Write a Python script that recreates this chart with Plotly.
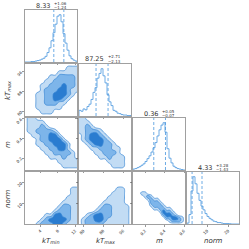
import numpy as np
import plotly.graph_objects as go

W = H = 249
FONT = "DejaVu Sans"

# ---------------- data ----------------
names = ["<i>kT</i><sub><i>min</i></sub>", "<i>kT</i><sub><i>max</i></sub>",
         "<i>m</i>", "<i>norm</i>"]
ranges = [[0.5, 12.4], [78.26, 99.2], [0.077, 0.61], [0.48, 25.2]]
ticks = [[4, 8, 12], [80, 88, 96], [0.2, 0.4, 0.6], [10, 20]]
tick_text = [["4", "8", "12"], ["80", "88", "96"], ["0.2", "0.4", "0.6"], ["10", "20"]]

medians = [8.33, 87.25, 0.36, 4.33]
err_lo = [1.24, 2.13, 0.07, 1.43]
err_hi = [1.06, 2.71, 0.05, 3.28]

hist_kTmin = [0, 0, 0, 0.01, 0.01, 0.02, 0.03, 0.04, 0.06, 0.08, 0.12, 0.2, 0.3,
              0.45, 0.62, 0.8, 0.97, 1.0, 0.85, 0.6, 0.4, 0.25, 0.13, 0.07, 0.04, 0.02]
hist_kTmax = [0.12, 0.1, 0.15, 0.13, 0.2, 0.25, 0.35, 0.5, 0.6, 0.8, 0.9, 1.0, 0.85,
              0.7, 0.45, 0.3, 0.22, 0.12, 0.1, 0.06, 0.05, 0.03, 0.02, 0.02, 0.01, 0.01]
hist_m = [0.02, 0.03, 0.05, 0.07, 0.1, 0.13, 0.18, 0.24, 0.3, 0.38, 0.47, 0.58, 0.72,
          0.85, 0.95, 1.0, 0.8, 0.45, 0.25, 0.15, 0.08, 0.05, 0.03, 0.02, 0.01, 0.0]
hist_norm = [0.02, 0.2, 0.7, 1.0, 0.85, 0.65, 0.5, 0.38, 0.3, 0.22, 0.16, 0.12, 0.09,
             0.06, 0.05, 0.03, 0.03, 0.02, 0.01, 0.01, 0.01, 0.005, 0, 0, 0, 0]
hists = [hist_kTmin, hist_kTmax, hist_m, hist_norm]

# density level maps (0 = outside, 1..3 = credible-region levels), top row first
dens_kTmax_kTmin = [
    "0000000000000",
    "0000000000111",
    "0000000011111",
    "0000001122221",
    "0000011222221",
    "0000112223221",
    "0000122233211",
    "0001122333210",
    "0001122332100",
    "0001122211000",
    "0001111110000",
    "0000111000000",
    "0000000000000"]
dens_m_kTmin = [
    "0110000000000",
    "0111100000000",
    "0111210000000",
    "0112222100000",
    "0011223310000",
    "0001223331000",
    "0001122333100",
    "0000112233100",
    "0000011222210",
    "0000001112110",
    "0000000011111",
    "0000000001111",
    "0000000000000"]
dens_m_kTmax = [
    "1100000000000",
    "1110000000000",
    "1121000000000",
    "1122210000000",
    "0123321000000",
    "0123332100000",
    "0012332210000",
    "0001122211000",
    "0000112221000",
    "0000011211100",
    "0000000111100",
    "0000000011100",
    "0000000000000"]
dens_norm_kTmin = [
    "0000000000000",
    "0000000000000",
    "0000000000000",
    "0000000000000",
    "0000000000011",
    "0000000000011",
    "0000000000111",
    "0000000001111",
    "0000000012211",
    "0000000122211",
    "0000011332211",
    "0000123333211",
    "0001222332111"]
dens_norm_kTmax = [
    "0000000000000",
    "0000000000000",
    "0000000000000",
    "0000000000000",
    "0000000001100",
    "0000000011100",
    "0000000111100",
    "0000001111100",
    "0000012211110",
    "0000122211110",
    "0012332211110",
    "0122332111110",
    "0122221111110"]
dens_norm_m = [
    "000000000000000000",
    "000000000000000000",
    "000000000000000000",
    "000000000000000000",
    "000000000000000000",
    "000000000000000000",
    "000000000000000000",
    "000110000000000000",
    "000012100000000000",
    "000001211000000000",
    "000000222100000000",
    "000000122210000000",
    "000000011221100000",
    "000000000132210000",
    "000000000023321000",
    "000000000002233210",
    "000000000000122210",
    "000000000000000000"]
dens = {(1, 0): dens_kTmax_kTmin, (2, 0): dens_m_kTmin, (2, 1): dens_m_kTmax,
        (3, 0): dens_norm_kTmin, (3, 1): dens_norm_kTmax, (3, 2): dens_norm_m}

# ---------------- style ----------------
BLUE = "#4a97de"
LINE2D = "#3a86d4"
LIGHT = "#c2dcf4"
MID = "#7db5ea"
DARK = "#2a7cd0"
FRAME = "#a0a0a0"
TXT = "#333333"
L0, T0, S, STEP = 25, 10, 52, 54
UP = 4  # display resampling of the level maps (smooth outlines, like corner's smoothing)


def _kern(t):
    a = -0.5
    t = abs(t)
    if t <= 1:
        return (a + 2) * t ** 3 - (a + 3) * t ** 2 + 1
    if t < 2:
        return a * t ** 3 - 5 * a * t ** 2 + 8 * a * t - 4 * a
    return 0.0


def _resample_matrix(n, f):
    m = (n - 1) * f + 1
    M = np.zeros((m, n))
    for j in range(m):
        u = j / f
        i0 = int(np.floor(u))
        for i in range(i0 - 1, i0 + 3):
            M[j, min(max(i, 0), n - 1)] += _kern(u - i)
    return M


fig = go.Figure()
layout = dict(width=W, height=H, margin=dict(l=0, r=0, t=0, b=0, pad=0),
              paper_bgcolor="white", plot_bgcolor="white", showlegend=False,
              font=dict(family=FONT, size=5, color=TXT))
annotations = []
shapes = []

cs = [[0, "rgba(255,255,255,0)"], [0.1667, "rgba(255,255,255,0)"],
      [0.1667, LIGHT], [0.5, LIGHT], [0.5, MID], [0.8333, MID],
      [0.8333, DARK], [1, DARK]]

k = 0
for r in range(4):
    for c in range(r + 1):
        k += 1
        xa = "x" if k == 1 else f"x{k}"
        ya = "y" if k == 1 else f"y{k}"
        x0 = (L0 + STEP * c) / W
        x1 = (L0 + STEP * c + S) / W
        y1 = 1 - (T0 + STEP * r) / H
        y0 = 1 - (T0 + STEP * r + S) / H
        xname = "xaxis" if k == 1 else f"xaxis{k}"
        yname = "yaxis" if k == 1 else f"yaxis{k}"
        layout[xname] = dict(domain=[x0, x1], range=ranges[c], anchor=ya,
                             tickvals=ticks[c], ticktext=tick_text[c],
                             showticklabels=(r == 3), tickangle=-45,
                             ticks="outside", ticklen=2, tickwidth=0.6, tickcolor="#555",
                             tickfont=dict(size=4, family=FONT, color=TXT),
                             showline=True, mirror=True, linecolor=FRAME, linewidth=1,
                             showgrid=False, zeroline=False, automargin=False)
        if r == c:
            layout[yname] = dict(domain=[y0, y1], range=[0, 1.1], anchor=xa,
                                 showticklabels=False, ticks="", showline=True,
                                 mirror=True, linecolor=FRAME, linewidth=1,
                                 showgrid=False, zeroline=False, automargin=False)
            counts = hists[c]
            edges = np.linspace(ranges[c][0], ranges[c][1], len(counts) + 1)
            fig.add_trace(go.Scatter(x=[edges[0]] + list(edges),
                                     y=[0] + list(counts) + [0],
                                     mode="lines", line=dict(color=BLUE, width=0.8, shape="hv"),
                                     xaxis=xa, yaxis=ya, hoverinfo="skip"))
            for q in (medians[c] - err_lo[c], medians[c] + err_hi[c]):
                shapes.append(dict(type="line", xref=xa, yref=f"{ya} domain",
                                   x0=q, x1=q, y0=0, y1=1,
                                   line=dict(color=BLUE, width=0.8, dash="3px,2px")))
            # title
            cx = (L0 + STEP * c + S / 2) / W
            top = T0 + STEP * c
            annotations.append(dict(x=cx + 1 / W, y=1 - (top - 4.5) / H, xref="paper", yref="paper",
                                    xanchor="right", yanchor="middle", showarrow=False,
                                    text=f"{medians[c]:.2f}",
                                    font=dict(size=6.5, family=FONT, color=TXT)))
            annotations.append(dict(x=cx + 1 / W, y=1 - (top - 7) / H, xref="paper", yref="paper",
                                    xanchor="left", yanchor="middle", showarrow=False,
                                    text=f"+{err_hi[c]:.2f}",
                                    font=dict(size=4, family=FONT, color=TXT)))
            annotations.append(dict(x=cx + 1 / W, y=1 - (top - 2.5) / H, xref="paper", yref="paper",
                                    xanchor="left", yanchor="middle", showarrow=False,
                                    text=f"\u2212{err_lo[c]:.2f}",
                                    font=dict(size=4, family=FONT, color=TXT)))
        else:
            layout[yname] = dict(domain=[y0, y1], range=ranges[r], anchor=xa,
                                 tickvals=ticks[r], ticktext=tick_text[r],
                                 showticklabels=(c == 0), tickangle=-45,
                                 ticks="outside", ticklen=2, tickwidth=0.6, tickcolor="#555",
                                 tickfont=dict(size=4, family=FONT, color=TXT),
                                 showline=True, mirror=True, linecolor=FRAME, linewidth=1,
                                 showgrid=False, zeroline=False, automargin=False)
            rows = dens[(r, c)]
            Z = np.array([[int(ch) for ch in row] for row in rows[::-1]], float)
            My = _resample_matrix(Z.shape[0], UP)
            Mx = _resample_matrix(Z.shape[1], UP)
            Zf = My @ Z @ Mx.T
            gx = np.linspace(ranges[c][0], ranges[c][1], Zf.shape[1])
            gy = np.linspace(ranges[r][0], ranges[r][1], Zf.shape[0])
            fig.add_trace(go.Contour(x=gx, y=gy, z=Zf, xaxis=xa, yaxis=ya,
                                     zmin=0, zmax=3, autocontour=False,
                                     contours=dict(start=0.5, end=2.5, size=1,
                                                   coloring="fill", showlines=True),
                                     colorscale=cs, showscale=False,
                                     line=dict(color=LINE2D, width=0.7, smoothing=1.0),
                                     hoverinfo="skip"))

# axis labels
for i in range(4):
    cx = (L0 + STEP * i + S / 2) / W
    annotations.append(dict(x=cx, y=1 - 241 / H, xref="paper", yref="paper",
                            xanchor="center", yanchor="middle", showarrow=False,
                            text=names[i], font=dict(size=7, family=FONT, color=TXT)))
for i in range(1, 4):
    cy = 1 - (T0 + STEP * i + S / 2) / H
    annotations.append(dict(x=8 / W, y=cy, xref="paper", yref="paper",
                            xanchor="center", yanchor="middle", showarrow=False,
                            textangle=-90, text=names[i],
                            font=dict(size=7, family=FONT, color=TXT)))

layout["annotations"] = annotations
layout["shapes"] = shapes
fig.update_layout(**layout)
fig.write_html("out.html", config={"displayModeBar": False, "staticPlot": True},
               post_script="document.body.style.margin='0';document.body.style.padding='0';")
